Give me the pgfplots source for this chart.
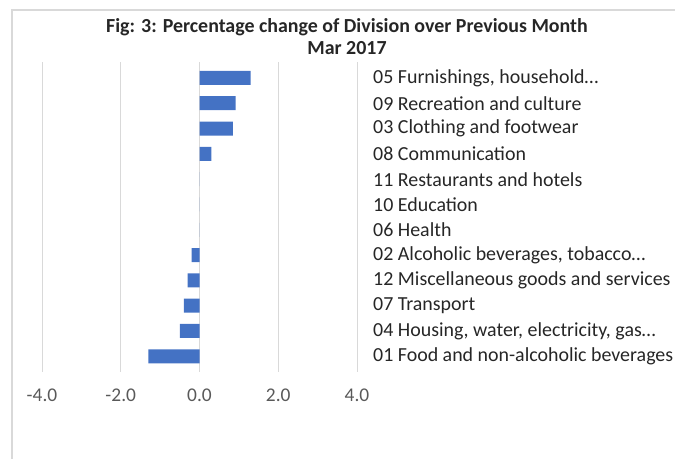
\documentclass[border=0pt]{standalone}
\usepackage{pgfplots}
\pgfplotsset{compat=1.18}
\usepackage{fontspec}
\setmainfont{Carlito}
\definecolor{barblue}{RGB}{68,114,196}
\definecolor{gridgray}{RGB}{217,217,217}
\definecolor{ticktext}{RGB}{89,89,89}
\begin{document}
\begin{tikzpicture}[x=1bp,y=1bp]
\path[use as bounding box] (0,0) rectangle (675,459);
\draw[gridgray, line width=1.2bp] (12,0) -- (12,449) -- (675,449);
\node[font=\fontsize{20}{24}\selectfont\bfseries, text=black!85] at (347,432) {Fig: 3: Percentage change of Division over Previous Month};
\node[font=\fontsize{20}{24}\selectfont\bfseries, text=black!85] at (347,411) {Mar 2017};
\begin{axis}[
  at={(42bp,87bp)}, anchor=south west,
  scale only axis,
  width=315bp, height=310bp,
  xbar, bar width=14bp,
  xmin=-4, xmax=4,
  ymin=-0.62, ymax=11.63,
  axis line style={draw=none},
  xtick={-4,-2,0,2,4},
  xticklabels={-4.0,-2.0,0.0,2.0,4.0},
  ytick={0,1,2,3,4,5,6,7,8,9,10,11},
  yticklabels={{01 Food and non-alcoholic beverages}, {04 Housing, water, electricity, gas…}, {07 Transport}, {12 Miscellaneous goods and services}, {02 Alcoholic beverages, tobacco…}, {06 Health}, {10 Education}, {11 Restaurants and hotels}, {08 Communication}, {03 Clothing and footwear}, {09 Recreation and culture}, {05 Furnishings, household…}},
  yticklabel pos=right,
  major tick length=0pt,
  xmajorgrids,
  grid style={gridgray, line width=1bp},
  xticklabel style={font=\fontsize{19.5}{22}\selectfont, text=ticktext, anchor=north, inner sep=0pt, yshift=-17bp},
  yticklabel style={font=\fontsize{20}{22}\selectfont, text=black!85, anchor=west, inner sep=0pt, xshift=16bp},
]
\addplot[fill=barblue, draw=none] coordinates {
  (-1.3,0) (-0.5,1) (-0.4,2) (-0.3,3) (-0.2,4) (0,5) (0,6) (0,7)
  (0.3,8) (0.85,9) (0.92,10) (1.3,11)};
\end{axis}
\end{tikzpicture}
\end{document}
